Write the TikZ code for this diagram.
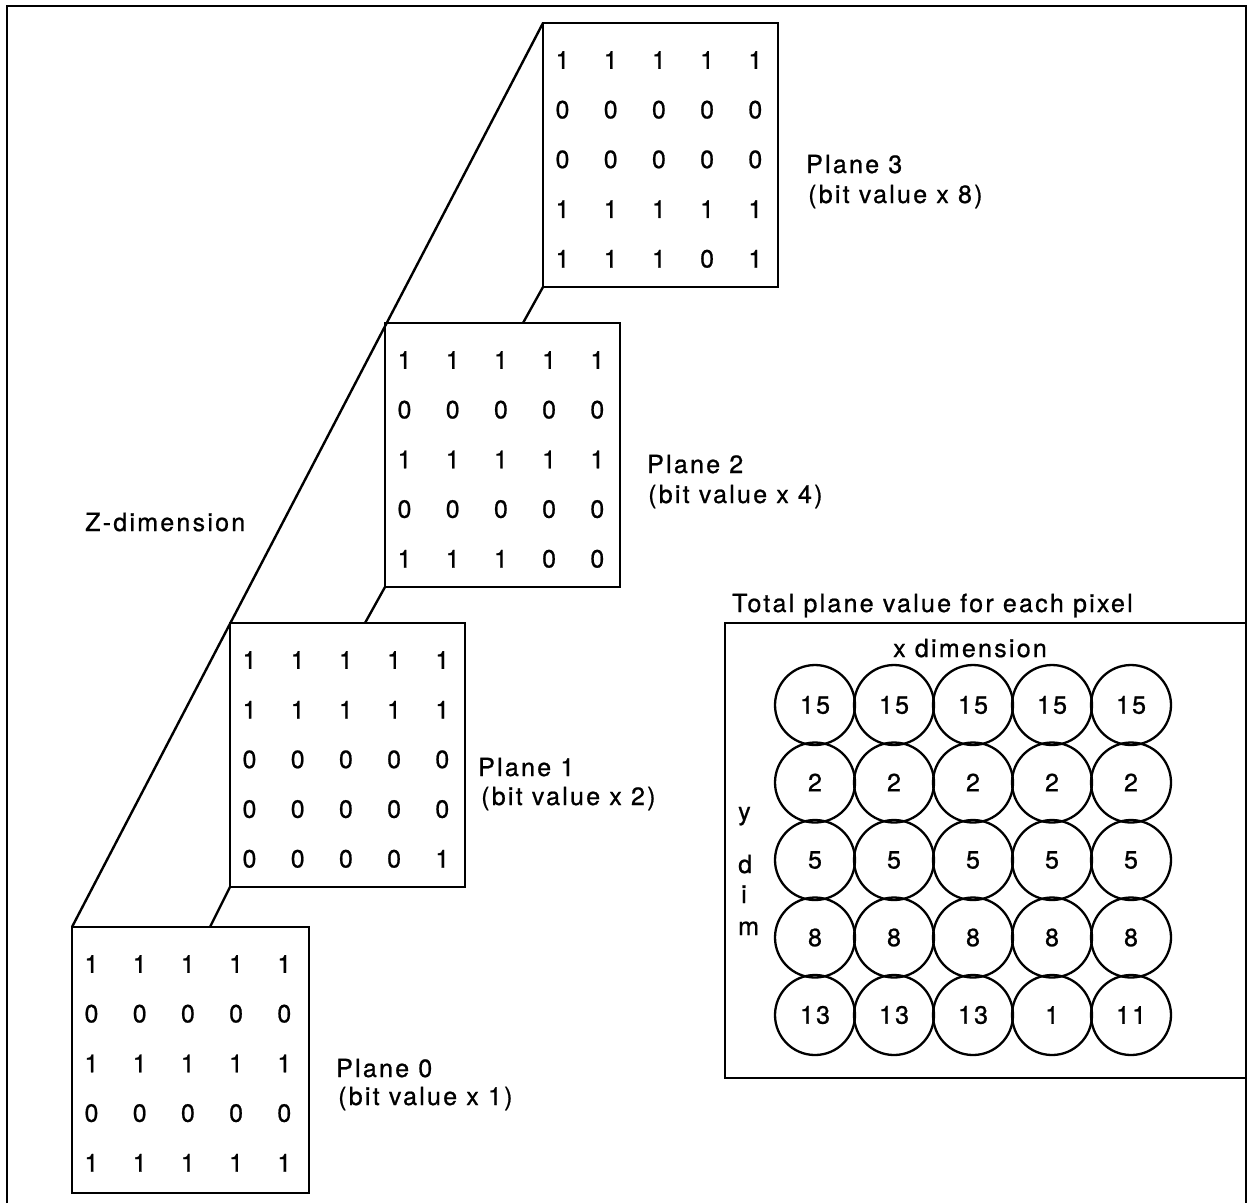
\documentclass[tikz,border=0pt]{standalone}
\usepackage{fontspec}
\setmainfont{TeX Gyre Heros}[LetterSpace=9,FakeBold=0.8]
\usetikzlibrary{calc}
\newcommand\bitgrid[4]{%
  \foreach \rowdata [count=\r] in {#4} {
    \foreach \v [count=\c] in \rowdata {
      \node[txt] (#1-\r-\c) at ({#2+19.5+48.2*(\c-1)},{#3+37+49.7*(\r-1)}) {\v};
    }
  }%
}
\begin{document}
\begin{tikzpicture}[x=1pt,y=-1pt,
  txt/.style={font=\fontsize{25}{29}\selectfont, inner sep=0pt},
  planebox/.style={draw, line width=2.6pt, minimum width=235pt, minimum height=264pt,
                   anchor=north west, inner sep=0pt, outer sep=0pt},
  link/.style={line width=2.4pt},
  pix/.style={draw, circle, line width=2.3pt, minimum size=80pt, inner sep=0pt,
              font=\fontsize{25}{29}\selectfont},
  lbl/.style={txt, anchor=base west}]
\useasboundingbox (0,0) rectangle (1249,1203);

% outer frame
\draw[line width=2.6pt] (7,1203) -- (7,6) -- (1246,6) -- (1246,1203);

% planes
\node[planebox] (p3) at (543,23) {};
\node[planebox] (p2) at (385,323) {};
\node[planebox] (p1) at (230,623) {};
\node[planebox, minimum width=237pt, minimum height=266pt] (p0) at (72,927) {};

\bitgrid{p3g}{543}{23}{{1,1,1,1,1},{0,0,0,0,0},{0,0,0,0,0},{1,1,1,1,1},{1,1,1,0,1}}
\bitgrid{p2g}{385}{323}{{1,1,1,1,1},{0,0,0,0,0},{1,1,1,1,1},{0,0,0,0,0},{1,1,1,0,0}}
\bitgrid{p1g}{230}{623}{{1,1,1,1,1},{1,1,1,1,1},{0,0,0,0,0},{0,0,0,0,0},{0,0,0,0,1}}
\bitgrid{p0g}{72}{927}{{1,1,1,1,1},{0,0,0,0,0},{1,1,1,1,1},{0,0,0,0,0},{1,1,1,1,1}}

% perspective lines
\draw[link] (p3.north west) -- (p0.north west);
\coordinate (t2) at (523,323);
\coordinate (t1) at (365,623);
\coordinate (t0) at (210,927);
\draw[link] (p3.south west) -- (t2);
\draw[link] (p2.south west) -- (t1);
\draw[link] (p1.south west) -- (t0);

% plane labels
\node[lbl] (l3a) at (806,173) {Plane 3};
\node[lbl] (l3b) at (808,203) {(bit value x 8)};
\node[lbl] (l2a) at (647,473) {Plane 2};
\node[lbl] (l2b) at (648,503) {(bit value x 4)};
\node[lbl] (l1a) at (478,776) {Plane 1};
\node[lbl] (l1b) at (481,805) {(bit value x 2)};
\node[lbl] (l0a) at (336,1077) {Plane 0};
\node[lbl] (l0b) at (338,1105) {(bit value x 1)};
\node[lbl] (zdim) at (85,531) {Z-dimension};

% total box
\node[lbl] (ttl) at (732,612) {Total plane value for each pixel};
\node[draw, line width=2.6pt, minimum width=521pt, minimum height=455pt,
      anchor=north west, inner sep=0pt, outer sep=0pt] (total) at (725,623) {};
\node[lbl] (xdim) at (893,657) {x dimension};
\node[lbl] (ly) at (738,820) {y};
\node[lbl] (ld) at (738,873) {d};
\node[lbl] (li) at (741,903) {i};
\node[lbl] (lm) at (738,935) {m};

\foreach \rowdata [count=\r] in {{15,15,15,15,15},{2,2,2,2,2},{5,5,5,5,5},{8,8,8,8,8},{13,13,13,1,11}} {
  \foreach \v [count=\c] in \rowdata {
    \node[pix] (c-\r-\c) at ({815+79*(\c-1)},{705+77.5*(\r-1)}) {\v};
  }
}
\end{tikzpicture}
\end{document}
